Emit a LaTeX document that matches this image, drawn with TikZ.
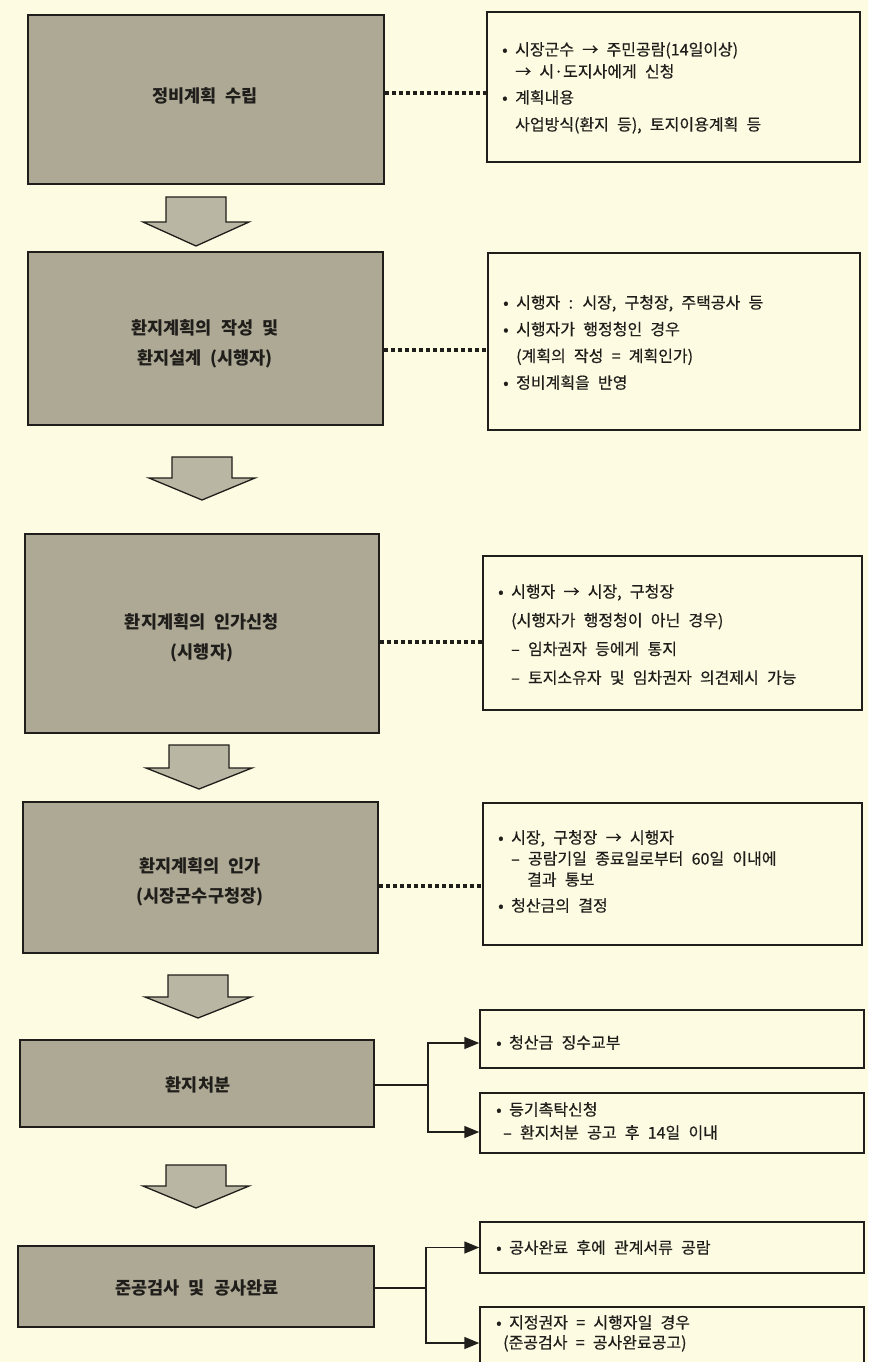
\documentclass[tikz,border=0pt]{standalone}
\usepackage{fontspec}
\newfontfamily\kr[WordSpace=2.3]{Noto Sans CJK KR}
\newfontfamily\krm[WordSpace=2.3,FakeBold=0.5]{Noto Sans CJK KR}
\usetikzlibrary{arrows.meta}
\definecolor{bgc}{RGB}{253,251,226}
\definecolor{boxc}{RGB}{174,169,149}
\definecolor{arrc}{RGB}{186,182,164}
\definecolor{ink}{RGB}{32,30,27}
\newcommand\bul{\makebox[13pt][l]{•}}
\newcommand\ind{\hspace*{13pt}}
\newcommand\dnarrow[4]{%
  \filldraw[blockarrow] (#1-30,#2) -- (#1+30,#2) -- (#1+30,#3) -- (#1+53,#3) -- (#1,#4) -- (#1-53,#3) -- (#1-30,#3) -- cycle;}
\tikzset{
  lbox/.style={draw=ink, line width=1.8pt, fill=boxc, inner sep=0pt},
  ltext/.style={inner sep=0pt, align=center, text=ink, font=\kr\bfseries\fontsize{17.5}{30}\selectfont},
  rbox/.style={draw=ink, line width=1.5pt, inner sep=0pt},
  rtext/.style={anchor=north west, inner sep=0pt, align=left, text=ink},
  dotline/.style={draw=ink, line width=3.6pt, dash pattern=on 4pt off 3pt},
  conn/.style={draw=ink, line width=1.5pt},
  arr/.style={conn, -{Triangle[length=15pt,width=12pt]}},
  blockarrow/.style={draw=ink, line width=1.3pt, fill=arrc, line join=miter},
}
\begin{document}
\begin{tikzpicture}[x=1pt,y=-1pt]
\fill[bgc] (0,0) rectangle (868,1362);
\useasboundingbox (0,0) rectangle (868,1362);

% left process boxes
\node[lbox, minimum width=356pt, minimum height=169pt] (L1) at (206,99.5) {};
\node[lbox, minimum width=355pt, minimum height=173pt] (L2) at (205.5,338.5) {};
\node[lbox, minimum width=354pt, minimum height=199pt] (L3) at (202,633.5) {};
\node[lbox, minimum width=355pt, minimum height=151pt] (L4) at (200.5,877.5) {};
\node[lbox, minimum width=354pt, minimum height=87pt] (L5) at (197,1083.5) {};
\node[lbox, minimum width=356pt, minimum height=81pt] (L6) at (196,1286.5) {};

\node[ltext] (L1t) at (205,96) {정비계획 수립};
\node[ltext] (L2t) at (205,343.5) {환지계획의 작성 및\\환지설계 (시행자)};
\node[ltext] (L3t) at (202,637.5) {환지계획의 인가신청\\(시행자)};
\node[ltext] (L4t) at (200,882) {환지계획의 인가\\(시장군수구청장)};
\node[ltext] (L5t) at (198,1085) {환지처분};
\node[ltext] (L6t) at (197,1288) {준공검사 및 공사완료};

% block arrows
\dnarrow{196}{197}{222}{246}
\dnarrow{202}{457}{478}{500}
\dnarrow{199}{745}{768}{789}
\dnarrow{198}{975}{997}{1018}
\dnarrow{196}{1165}{1186}{1208}

% right note boxes
\node[rbox, minimum width=373pt, minimum height=150pt] (R1) at (673.5,87) {};
\node[rbox, minimum width=372pt, minimum height=177pt] (R2) at (674,341.5) {};
\node[rbox, minimum width=379pt, minimum height=154pt] (R3) at (672.5,633) {};
\node[rbox, minimum width=379pt, minimum height=142pt] (R4) at (672.5,874) {};
\node[rbox, minimum width=384pt, minimum height=58pt] (Ra) at (672,1039) {};
\node[rbox, minimum width=384pt, minimum height=60pt] (Rb) at (672,1123) {};
\node[rbox, minimum width=384pt, minimum height=51pt] (Rc) at (672,1247.5) {};
\node[rbox, minimum width=384pt, minimum height=57pt] (Rd) at (672,1335.5) {};

\node[rtext, font=\krm\fontsize{16}{22}\selectfont] (R1t) at (502,42)
  {\bul 시장군수 → 주민공람(14일이상)\\
   \ind → 시·도지사에게 신청\\[4pt]
   \bul 계획내용\\[5pt]
   \ind 사업방식(환지 등), 토지이용계획 등};
\node[rtext, font=\krm\fontsize{16}{26.7}\selectfont] (R2t) at (503,295)
  {\bul 시행자 : 시장, 구청장, 주택공사 등\\
   \bul 시행자가 행정청인 경우\\
   \ind (계획의 작성 = 계획인가)\\
   \bul 정비계획을 반영};
\node[rtext, font=\krm\fontsize{16}{28.7}\selectfont] (R3t) at (498,584)
  {\bul 시행자 → 시장, 구청장\\
   \ind (시행자가 행정청이 아닌 경우)\\
   \ind – 임차권자 등에게 통지\\
   \ind – 토지소유자 및 임차권자 의견제시 가능};
\node[rtext, font=\krm\fontsize{16}{21}\selectfont] (R4t) at (498,830)
  {\bul 시장, 구청장 → 시행자\\
   \ind – 공람기일 종료일로부터 60일 이내에\\
   \ind\hspace*{16pt}결과 통보\\[5pt]
   \bul 청산금의 결정};
\node[rtext, font=\krm\fontsize{16}{23}\selectfont] (Rat) at (496,1035)
  {\bul 청산금 징수교부};
\node[rtext, font=\krm\fontsize{16}{23}\selectfont] (Rbt) at (496,1102)
  {\bul 등기촉탁신청\\
   \hspace*{7pt}– 환지처분 공고 후 14일 이내};
\node[rtext, font=\krm\fontsize{16}{23}\selectfont] (Rct) at (496,1240)
  {\bul 공사완료 후에 관계서류 공람};
\node[rtext, font=\krm\fontsize{16}{20}\selectfont] (Rdt) at (496,1315)
  {\bul 지정권자 = 시행자일 경우\\
   \hspace*{7pt}(준공검사 = 공사완료공고)};

% dotted links
\draw[dotline] ([yshift=6.5pt]L1.east) -- ([yshift=6.5pt]L1.east -| R1.west);
\draw[dotline] ([yshift=-11.5pt]L2.east) -- ([yshift=-11.5pt]L2.east -| R2.west);
\draw[dotline] ([yshift=-8.5pt]L3.east) -- ([yshift=-8.5pt]L3.east -| R3.west);
\draw[dotline] ([yshift=-8.5pt]L4.east) -- ([yshift=-8.5pt]L4.east -| R4.west);

% branching connectors
\coordinate (j5) at ([xshift=53pt,yshift=-1.5pt]L5.east);
\draw[conn] ([yshift=-1.5pt]L5.east) -- (j5);
\draw[arr] (j5) |- ([yshift=-4pt]Ra.west);
\draw[arr] (j5) |- ([yshift=-9pt]Rb.west);
\coordinate (j6) at ([xshift=51pt,yshift=-1.5pt]L6.east);
\draw[conn] ([yshift=-1.5pt]L6.east) -- (j6);
\draw[arr] (j6) |- (Rc.west);
\draw[arr] (j6) |- ([yshift=-7.5pt]Rd.west);
\end{tikzpicture}
\end{document}
